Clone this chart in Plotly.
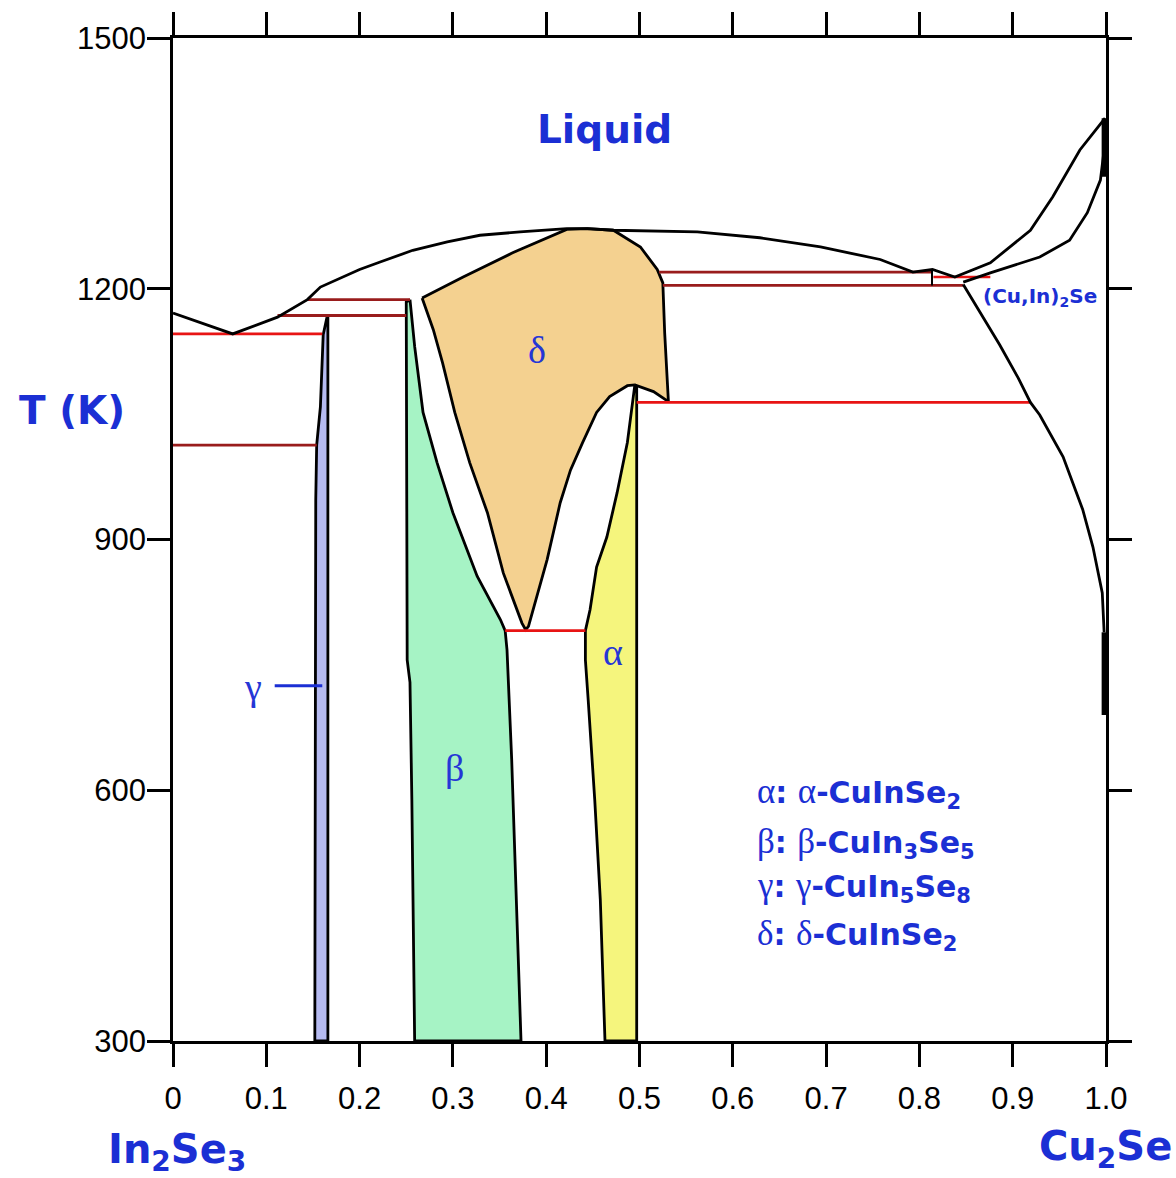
import plotly.graph_objects as go

# ---- axes ---------------------------------------------------------------
x_tickvals = [0, 0.1, 0.2, 0.3, 0.4, 0.5, 0.6, 0.7, 0.8, 0.9, 1.0]
x_ticktext = ["0", "0.1", "0.2", "0.3", "0.4", "0.5", "0.6", "0.7", "0.8", "0.9", "1.0"]
T_tickvals = [300, 600, 900, 1200, 1500]

# ---- phase boundaries (x = fraction Cu2Se, T in K) -----------------------
liquidus_x = [0, 0.064, 0.112, 0.144, 0.158, 0.200, 0.222, 0.257, 0.294, 0.329, 0.372,
              0.422, 0.444, 0.472, 0.562, 0.629, 0.694, 0.758, 0.793, 0.814, 0.838,
              0.876, 0.919, 0.943, 0.972, 0.999]
liquidus_T = [1171, 1146, 1166, 1187, 1202, 1223, 1232, 1246, 1256, 1264, 1268,
              1272, 1272, 1270, 1268, 1261, 1250, 1235, 1220, 1223, 1214,
              1231, 1270, 1310, 1366, 1404]

cu2se_solidus_x = [0.847, 0.876, 0.929, 0.961, 0.980, 0.994, 0.998, 0.999]
cu2se_solidus_T = [1208, 1219, 1238, 1258, 1291, 1330, 1366, 1396]

cu2se_solvus_x = [0.847, 0.865, 0.886, 0.906, 0.919, 0.929, 0.954, 0.975, 0.986, 0.996, 0.998]
cu2se_solvus_T = [1205, 1172, 1133, 1093, 1064, 1049, 999, 936, 891, 836, 789]

edge_high_T = [1404, 1334]
edge_low_T = [789, 690]

gamma_x = [0.165, 0.161, 0.158, 0.154, 0.153, 0.152, 0.166, 0.166, 0.165]
gamma_T = [1166, 1145, 1059, 1013, 947, 300, 300, 1168, 1166]

beta_x = [0.254, 0.250, 0.251, 0.254, 0.256, 0.259, 0.373, 0.368, 0.363, 0.358, 0.356,
          0.351, 0.326, 0.300, 0.283, 0.268, 0.259, 0.254]
beta_T = [1187, 1184, 756, 729, 589, 300, 300, 469, 637, 768, 791,
          804, 856, 932, 992, 1052, 1131, 1187]

delta_x = [0.267, 0.311, 0.364, 0.422, 0.444, 0.472, 0.501, 0.519, 0.525, 0.527, 0.531,
           0.515, 0.495, 0.487, 0.468, 0.454, 0.439, 0.426, 0.415, 0.401, 0.381, 0.378,
           0.374, 0.354, 0.337, 0.318, 0.302, 0.289, 0.279, 0.267]
delta_T = [1189, 1214, 1243, 1271, 1272, 1270, 1250, 1223, 1207, 1147, 1065,
           1077, 1085, 1084, 1071, 1052, 1016, 983, 944, 876, 796, 792,
           800, 860, 932, 992, 1052, 1111, 1151, 1189]

alpha_x = [0.495, 0.487, 0.476, 0.465, 0.454, 0.447, 0.442, 0.442, 0.445, 0.452, 0.458,
           0.463, 0.497, 0.497, 0.495]
alpha_T = [1085, 1016, 956, 903, 867, 816, 791, 756, 708, 589, 469,
           300, 300, 1083, 1085]

# ---- invariant / transition isotherms: (T, x_start, x_end) ----------------
isotherms_bright = [(1146, 0.0, 0.160), (1214, 0.815, 0.876), (1064, 0.497, 0.919), (791, 0.356, 0.442)]
isotherms_dark = [(1013, 0.0, 0.154), (1168, 0.112, 0.250), (1187, 0.144, 0.254),
                  (1220, 0.521, 0.814), (1204, 0.525, 0.847)]

BLUE = "#1b2fd4"
GREEK = "#2536d6"
LW = 2.8

fig = go.Figure()

# single-phase regions
for xs, ts, col in [(gamma_x, gamma_T, "#b6bbf1"), (beta_x, beta_T, "#a6f3c5"),
                    (delta_x, delta_T, "#f4d190"), (alpha_x, alpha_T, "#f5f57d")]:
    fig.add_trace(go.Scatter(x=xs, y=ts, mode="lines", fill="toself", fillcolor=col,
                             line=dict(color="black", width=LW), hoverinfo="skip"))

# isotherms
for T, x0, x1 in isotherms_dark:
    fig.add_trace(go.Scatter(x=[x0, x1], y=[T, T], mode="lines",
                             line=dict(color="#991c1c", width=2.8), hoverinfo="skip"))
for T, x0, x1 in isotherms_bright:
    fig.add_trace(go.Scatter(x=[x0, x1], y=[T, T], mode="lines",
                             line=dict(color="#e81414", width=2.6), hoverinfo="skip"))

# boundary curves
for xs, ts in [(liquidus_x, liquidus_T), (cu2se_solidus_x, cu2se_solidus_T),
               (cu2se_solvus_x, cu2se_solvus_T)]:
    fig.add_trace(go.Scatter(x=xs, y=ts, mode="lines", line=dict(color="black", width=LW),
                             hoverinfo="skip"))
fig.add_trace(go.Scatter(x=[0.8135, 0.8135], y=[1223, 1204], mode="lines",
                         line=dict(color="black", width=2), hoverinfo="skip"))
for seg in (edge_high_T, edge_low_T):
    fig.add_trace(go.Scatter(x=[0.998, 0.998], y=seg, mode="lines",
                             line=dict(color="black", width=5), hoverinfo="skip"))
# gamma pointer
fig.add_trace(go.Scatter(x=[0.109, 0.160], y=[725, 725], mode="lines",
                         line=dict(color=BLUE, width=3), hoverinfo="skip"))

ann = []
bold = dict(family="DejaVu Sans", color=BLUE, weight="bold")
ann.append(dict(x=0.463, y=1390, text="Liquid", font=dict(size=39, **bold)))
ann.append(dict(x=0.929, y=1190, text="(Cu,In)<sub>2</sub>Se", font=dict(size=20, **bold)))
for gx, gy, g in [(0.390, 1127, "δ"), (0.472, 766, "α"), (0.302, 627, "β"), (0.086, 723, "γ")]:
    ann.append(dict(x=gx, y=gy, text=g, font=dict(family="Liberation Serif", size=38, color=GREEK)))

legend_rows = [(597, "α", "CuInSe<sub>2</sub>"), (537, "β", "CuIn<sub>3</sub>Se<sub>5</sub>"),
               (484, "γ", "CuIn<sub>5</sub>Se<sub>8</sub>"), (427, "δ", "CuInSe<sub>2</sub>")]
for ly, g, formula in legend_rows:
    serif = '<span style="font-family:Liberation Serif;font-weight:normal;font-size:35px">%s</span>' % g
    ann.append(dict(x=0.624, y=ly, xanchor="left", text="%s: %s-%s" % (serif, serif, formula),
                    font=dict(size=30, **bold)))

# axis titles / end members
ann.append(dict(xref="paper", yref="paper", x=-0.108, y=0.629, text="T (K)",
                font=dict(size=39, **bold)))
ann.append(dict(xref="paper", yref="paper", x=0.004, y=-0.111, text="In<sub>2</sub>Se<sub>3</sub>",
                font=dict(size=40, **bold)))
ann.append(dict(xref="paper", yref="paper", x=0.999, y=-0.108, text="Cu<sub>2</sub>Se",
                font=dict(size=40, **bold)))
for a in ann:
    a.setdefault("showarrow", False)
    a.setdefault("xanchor", "center")
    a.setdefault("yanchor", "middle")
fig.update_layout(annotations=ann)

tickfont = dict(family="Liberation Sans Narrow, Arial Narrow, Liberation Sans", size=31, color="black")
axis_common = dict(showline=True, linecolor="black", linewidth=2.8, mirror="ticks",
                   ticks="outside", ticklen=23, tickwidth=2.8, tickcolor="black",
                   showgrid=False, zeroline=False, tickfont=tickfont)
fig.update_xaxes(range=[0, 1], tickvals=x_tickvals, ticktext=x_ticktext,
                 ticklabelstandoff=5, **axis_common)
fig.update_yaxes(range=[300, 1500], tickvals=T_tickvals, ticklabelstandoff=-5, **axis_common)

fig.update_layout(width=1176, height=1178, showlegend=False,
                  margin=dict(l=173, r=70, t=38, b=137),
                  plot_bgcolor="white", paper_bgcolor="white")

fig.write_html("out.html")
